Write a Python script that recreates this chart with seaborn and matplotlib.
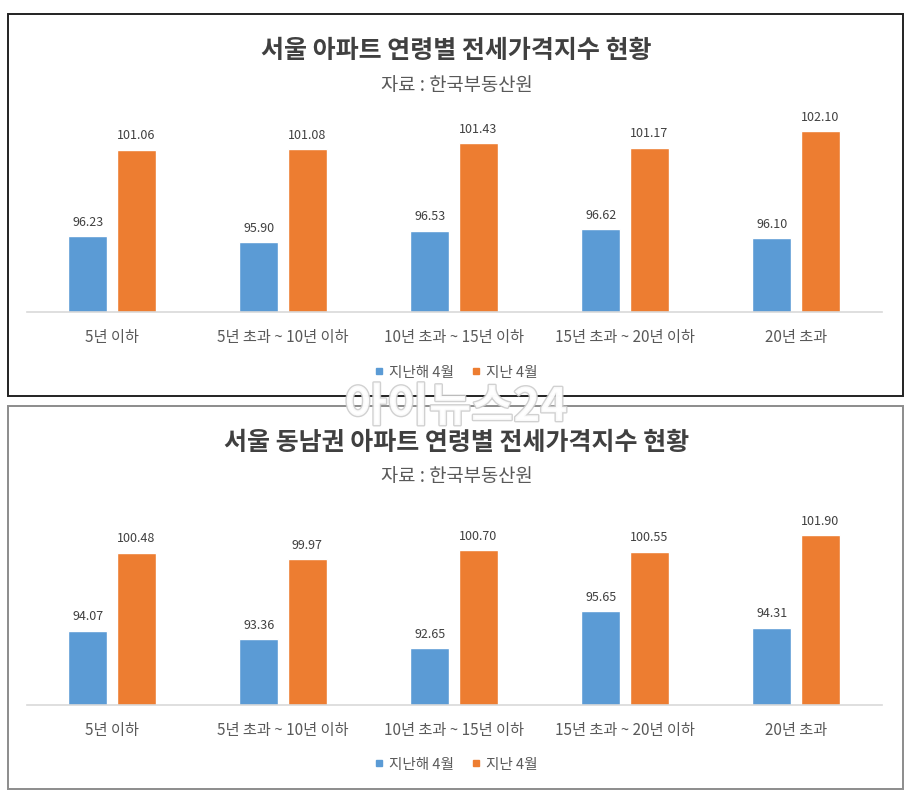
import numpy as np
import pandas as pd
import matplotlib
matplotlib.use('Agg')
import matplotlib.pyplot as plt
import matplotlib.patheffects as pe
from matplotlib.patches import Rectangle
from matplotlib.lines import Line2D
import seaborn as sns

# --- data ---
categories = ['5년 이하', '5년 초과 ~ 10년 이하', '10년 초과 ~ 15년 이하',
              '15년 초과 ~ 20년 이하', '20년 초과']
series = ['지난해 4월', '지난 4월']

seoul_last_year = [96.23, 95.90, 96.53, 96.62, 96.10]
seoul_this_year = [101.06, 101.08, 101.43, 101.17, 102.10]

se_last_year = [94.07, 93.36, 92.65, 95.65, 94.31]
se_this_year = [100.48, 99.97, 100.70, 100.55, 101.90]

titles = ['서울 아파트 연령별 전세가격지수 현황', '서울 동남권 아파트 연령별 전세가격지수 현황']
source = '자료 : 한국부동산원'

colors = ['#5B9BD5', '#ED7D31']

sns.set_theme(style='white')
plt.rcParams['font.family'] = ['Noto Sans CJK KR', 'DejaVu Sans']

W, H = 913, 812
fig = plt.figure(figsize=(W / 100, H / 100), dpi=100)


def fx(px):
    return px / W


def fy(py):
    return 1 - py / H


def panel(box_top, box_bot, base_y, top_y, ylim, last, this, title, edge):
    # frame
    fig.patches.append(Rectangle((fx(8), fy(box_bot)), fx(903 - 8), (box_bot - box_top) / H,
                                 transform=fig.transFigure, fill=False,
                                 edgecolor=edge, linewidth=1.4, zorder=0))
    df = pd.DataFrame({
        '구분': categories * 2,
        '시점': [series[0]] * 5 + [series[1]] * 5,
        '지수': last + this,
    })
    ax = fig.add_axes([fx(26.5), fy(base_y), fx(855), (base_y - top_y) / H])
    sns.barplot(data=df, x='구분', y='지수', hue='시점', order=categories,
                hue_order=series, palette=colors, width=0.57, gap=0.2,
                saturation=1, legend=False, ax=ax)
    ax.set_ylim(*ylim)
    ax.set_xlim(-0.5, len(categories) - 0.5)
    for c in ax.containers:
        ax.bar_label(c, fmt='%.2f', padding=6, fontsize=9, color='#404040')
    for s in ['top', 'left', 'right']:
        ax.spines[s].set_visible(False)
    ax.spines['bottom'].set_color('#d9d9d9')
    ax.spines['bottom'].set_linewidth(1.2)
    ax.set_yticks([])
    ax.set_xlabel('')
    ax.set_ylabel('')
    ax.tick_params(axis='x', length=0, pad=12, labelsize=11, labelcolor='#595959')
    ax.patch.set_alpha(0)

    fig.text(0.5, fy(box_top + 36), title, ha='center', va='center',
             fontsize=18, fontweight='bold', color='#404040')
    fig.text(0.5, fy(box_top + 70), source, ha='center', va='center',
             fontsize=13.5, color='#595959')
    handles = [Line2D([], [], marker='s', linestyle='', markersize=5, color=col)
               for col in colors]
    fig.legend(handles, series, loc='center', bbox_to_anchor=(0.5, fy(base_y + 60)),
               ncol=2, frameon=False, fontsize=10.5, handlelength=0.5,
               handletextpad=0.4, columnspacing=1.3, labelcolor='#595959')
    return ax


panel(15, 397, 312.7, 98.2, (92, 104), seoul_last_year, seoul_this_year, titles[0], '#222222')
panel(407, 790, 705.5, 510.8, (88, 104), se_last_year, se_this_year, titles[1], '#8c8c8c')

# watermark
fig.text(fx(456), fy(409), '아이뉴스24', ha='center', va='center', fontsize=33,
         fontweight='bold', color='white', alpha=0.9, zorder=10,
         path_effects=[pe.withStroke(linewidth=2, foreground='#cccccc')])

fig.savefig('out.png', dpi=100, facecolor='white')
